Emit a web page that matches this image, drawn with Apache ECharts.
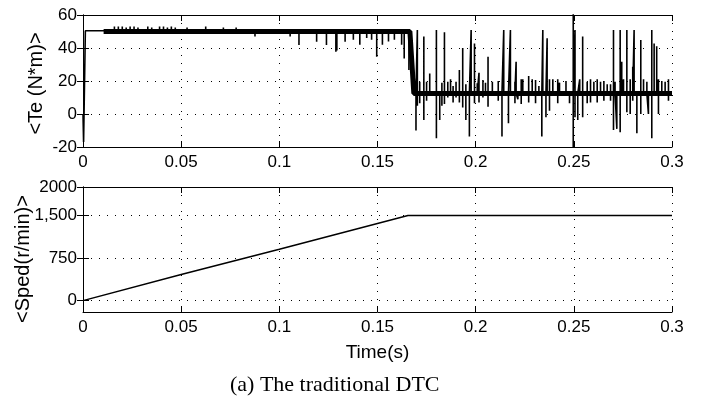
<!DOCTYPE html>
<html>
<head>
<meta charset="utf-8">
<script src="https://cdn.jsdelivr.net/npm/echarts@6/dist/echarts.min.js"></script>
<style>
html,body{margin:0;padding:0;background:#fff;}
#chart{width:716px;height:399px;}
</style>
</head>
<body>
<div id="chart"></div>
<script>
// ---- data ----
var timeTickLabels = ['0', '0.05', '0.1', '0.15', '0.2', '0.25', '0.3'];
var teTickValues = [-20, 0, 20, 40, 60];
var speedTickValues = [0, 750, 1500, 2000];
var speedTickLabels = ['0', '750', '1,500', '2000'];

// Te: start-up transient (thin)
var teStartTime = [0, 0.0003, 0.0012, 0.0105];
var teStartValue = [0, -17, 50.5, 50.5];

// Te: mean torque band (thick)
var teBandTime = [0.0105, 0.1665, 0.1685, 0.3];
var teBandValue = [50, 50, 12.5, 12.5];

// Te: ripple spikes [time, high, low]
var spikeTime = [
  0.016, 0.018, 0.020, 0.022, 0.024, 0.026, 0.028, 0.033, 0.035, 0.039, 0.041, 0.043, 0.045, 0.047, 0.053, 0.0625, 0.0715, 0.078,
  0.0876, 0.1055, 0.1100, 0.119, 0.124, 0.1288, 0.1293, 0.1335, 0.1377, 0.141, 0.1445, 0.147, 0.1496, 0.1525, 0.1556, 0.1586, 0.1623, 0.1636, 0.1660,
  0.1696, 0.1703, 0.1715, 0.1736, 0.1750, 0.1766, 0.1800, 0.1817, 0.1828, 0.1841, 0.1858, 0.1872, 0.1885, 0.1900, 0.1917, 0.1934, 0.1950, 0.1968, 0.1977, 0.1994,
  0.2008, 0.2017, 0.2037, 0.2050, 0.2063, 0.2085, 0.2115, 0.2134, 0.2143, 0.2167, 0.2177, 0.2200, 0.2206, 0.2215, 0.2232, 0.2240, 0.2270, 0.2288, 0.2305, 0.2322,
  0.2337, 0.2342, 0.2358, 0.2364, 0.2376, 0.2393, 0.2418, 0.2427, 0.2460, 0.2478, 0.2497, 0.2506, 0.2520, 0.2530, 0.2545, 0.2568, 0.2585, 0.2602, 0.2619, 0.2636,
  0.2653, 0.2670, 0.2687, 0.2702, 0.2710, 0.2719, 0.2736, 0.2744, 0.2753, 0.2770, 0.2787, 0.2800, 0.2807, 0.2821, 0.2841, 0.2855, 0.2872, 0.2880, 0.2897, 0.2909,
  0.2922, 0.2931, 0.2948, 0.2965, 0.2982
];
var spikeHigh = [
  53, 53, 53, 52.5, 53, 53, 52.5, 53, 52.5, 53, 53, 52.5, 53, 52.5, 52.5, 53, 52.5, 52.5,
  50, 50, 50, 50, 50, 50, 50, 50, 50, 50, 50, 50, 50, 50, 50, 50, 50, 50, 50,
  19.6, 50.9, 19.6, 46.9, 19.6, 24.6, 50.9, 12.5, 19, 49.5, 19.6, 21, 17, 19.6, 26.7, 40, 18, 12.5, 50.9, 42.8,
  18.6, 25, 20.6, 19, 34.7, 19.6, 20, 12.5, 50.9, 12.5, 50.9, 19.6, 31.7, 12.5, 21, 21, 23, 21, 20.6, 17,
  12.5, 50.9, 12.5, 45.9, 21, 21, 21, 19, 20, 12.5, 62, 50.9, 12.5, 21, 46.9, 19.6, 21, 19.6, 21, 19.6,
  20, 18, 18, 50.9, 19.6, 12.5, 50.9, 31.7, 21, 50.9, 21, 28.7, 50.9, 12.5, 44.8, 21, 19.6, 12.5, 50.9, 42.8,
  41, 21, 20, 19.6, 21
];
var spikeLow = [
  50, 50, 50, 50, 50, 50, 50, 50, 50, 50, 50, 50, 50, 50, 50, 50, 50, 50,
  46.9, 46.9, 41.8, 43.8, 41.8, 37.8, 38.5, 43.8, 45, 42, 46, 45, 34.7, 42, 44, 45, 42, 33.7, 26.7,
  -10, 5, 6.5, -3.6, 8, 12.5, -14.7, -3.6, 5, 6, 10, 12.5, 7, 10, 7, 4, -3.6, -13.7, 12.5, 6.5,
  12.5, 7, 10, 12.5, 4.4, 12.5, 8, -13.7, 12.5, -5.6, 12.5, 6.5, 12.5, 9, 6, 12.5, 7, 12.5, 6.5, 12.5,
  -13.7, 12.5, -2, 12.5, 2, 12.5, 6.5, 12.5, 12.5, 6.5, -22, -2, -3.6, 12.5, -2, 6.5, 7, 12.5, 7, 12.5,
  8, 12.5, 8, -9.7, 12.5, -9, -11, 12.5, 12.5, 1, 0, 8, 12.5, -11.7, 0, 12.5, 12.5, 0, -14.7, 12.5,
  12.5, 0, 12.5, 12.5, 8
];

// Speed
var speedTime = [0, 0.05, 0.1, 0.1655, 0.3];
var speedValue = [0, 460, 905, 1500, 1500];

// ---- build ----
function zip(a, b) { return a.map(function (v, i) { return [v, b[i]]; }); }
function bandLevel(t) {
  // level of the torque band before / after the load step
  return t < teBandTime[1] ? teBandValue[0] : teBandValue[teBandValue.length - 1];
}
var spikeData = zip(teStartTime, teStartValue);
spikeTime.forEach(function (t, i) {
  var b = bandLevel(t);
  spikeData.push([t, b], [t, spikeHigh[i]], [t, spikeLow[i]], [t, b]);
});
spikeData.push([0.3, teBandValue[teBandValue.length - 1]]);

var black = '#000';
var sans = "'Liberation Sans',Arial,sans-serif";
var tickFont = { color: black, fontSize: 17, fontFamily: sans };
var dotted = { show: true, lineStyle: { color: black, width: 1, type: [1, 7] } };

function xAx(grid, bottom, name) {
  var o = {
    type: 'value', gridIndex: grid, min: 0, max: 0.3, interval: 0.05,
    position: bottom ? 'bottom' : 'top',
    axisLine: { show: true, onZero: false, lineStyle: { color: black, width: 1 } },
    axisTick: { show: true, inside: true, length: 6, lineStyle: { color: black } },
    axisLabel: bottom ? Object.assign({ show: true, margin: 7, formatter: function (v, i) { return timeTickLabels[i]; } }, tickFont) : { show: false },
    splitLine: bottom ? dotted : { show: false }
  };
  if (name) {
    o.name = name; o.nameLocation = 'middle'; o.nameGap = 31; o.nameMoveOverlap = false;
    o.nameTextStyle = { color: black, fontSize: 19, fontFamily: sans };
  }
  return o;
}

var option = {
  animation: false,
  backgroundColor: '#fff',
  grid: [
    { left: 83, top: 15, width: 589, height: 132, containLabel: false, outerBoundsMode: 'none' },
    { left: 83, top: 187, width: 589, height: 125, containLabel: false, outerBoundsMode: 'none' }
  ],
  xAxis: [xAx(0, true), xAx(0, false), xAx(1, true, 'Time(s)'), xAx(1, false)],
  yAxis: [
    {
      type: 'value', gridIndex: 0, min: teTickValues[0], max: teTickValues[teTickValues.length - 1], interval: 20, position: 'left',
      name: '<Te (N*m)>', nameLocation: 'middle', nameGap: 37, nameMoveOverlap: false,
      nameTextStyle: { color: black, fontSize: 20, fontFamily: sans, padding: [0, 5, 0, 0] },
      axisLine: { show: true, lineStyle: { color: black } },
      axisTick: { show: true, inside: true, length: 6, lineStyle: { color: black } },
      axisLabel: Object.assign({ margin: 6 }, tickFont),
      splitLine: dotted
    },
    {
      type: 'value', gridIndex: 0, min: teTickValues[0], max: teTickValues[teTickValues.length - 1], interval: 20, position: 'right',
      axisLine: { show: true, lineStyle: { color: black } },
      axisTick: { show: true, inside: true, length: 6, lineStyle: { color: black } },
      axisLabel: { show: false }, splitLine: { show: false }
    },
    {
      type: 'value', gridIndex: 1, min: -200, max: 2000, position: 'left',
      name: '<Sped(r/min)>', nameLocation: 'middle', nameGap: 50, nameMoveOverlap: false,
      nameTextStyle: { color: black, fontSize: 20, fontFamily: sans, padding: [0, 19, 0, 0] },
      axisLine: { show: true, lineStyle: { color: black } },
      axisTick: { show: true, inside: true, length: 6, customValues: speedTickValues, lineStyle: { color: black } },
      axisLabel: Object.assign({ margin: 6, customValues: speedTickValues,
        formatter: function (v) { var k = speedTickValues.indexOf(v); return k >= 0 ? speedTickLabels[k] : ''; } }, tickFont),
      splitLine: { show: false }
    },
    {
      type: 'value', gridIndex: 1, min: -200, max: 2000, position: 'right',
      axisLine: { show: true, lineStyle: { color: black } },
      axisTick: { show: true, inside: true, length: 6, customValues: speedTickValues, lineStyle: { color: black } },
      axisLabel: { show: false }, splitLine: { show: false }
    }
  ],
  series: [
    {
      type: 'line', xAxisIndex: 0, yAxisIndex: 0, data: zip(teBandTime, teBandValue),
      symbol: 'none', lineStyle: { color: black, width: 5 }, silent: true, z: 3
    },
    {
      type: 'line', xAxisIndex: 0, yAxisIndex: 0, data: spikeData,
      symbol: 'none', lineStyle: { color: black, width: 1.6 }, silent: true, z: 4
    },
    {
      type: 'line', xAxisIndex: 2, yAxisIndex: 2, data: zip(speedTime, speedValue),
      symbol: 'none', lineStyle: { color: black, width: 1.5 }, silent: true, z: 4,
      markLine: {
        silent: true, symbol: 'none', label: { show: false },
        lineStyle: { color: black, width: 1, type: [1, 7] },
        data: speedTickValues.slice(0, 3).map(function (v) { return { yAxis: v }; })
      }
    }
  ],
  graphic: [
    {
      type: 'text', left: 230, top: 374,
      style: { text: '(a) The traditional DTC', fill: black, fontSize: 22,
        fontFamily: "'Liberation Serif','Times New Roman',serif" }
    }
  ]
};
var chart = echarts.init(document.getElementById('chart'), null, { renderer: 'canvas' });
chart.setOption(option);
</script>
</body>
</html>
